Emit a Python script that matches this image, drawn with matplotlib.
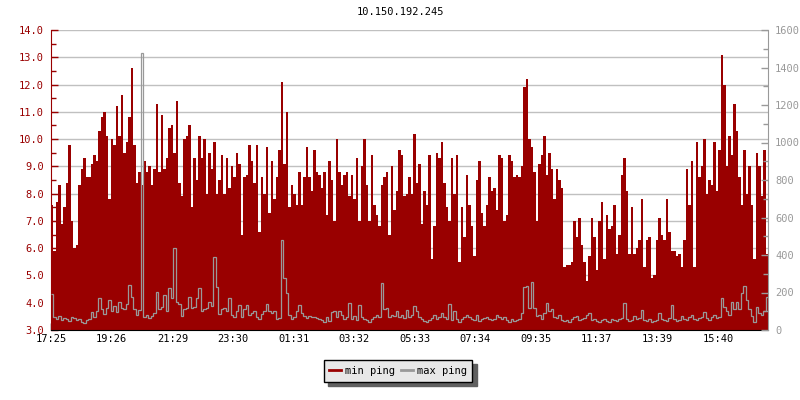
import numpy as np
import matplotlib
matplotlib.use("Agg")
import matplotlib.pyplot as plt
from matplotlib.lines import Line2D

title = "10.150.192.245"
start_time = "17:25"
step_min = 5
time_labels = ["17:25", "19:26", "21:29", "23:30", "01:31", "03:32",
               "05:33", "07:34", "09:35", "11:37", "13:39", "15:40"]
series_names = ["min ping", "max ping"]

# min ping (left axis), one value per 5 min
min_ping = [
    7.6, 5.9, 7.7, 8.3, 6.9, 7.5, 8.4, 9.8, 7.0, 6.0, 6.1, 8.3, 8.9, 9.3, 8.6, 8.6, 9.1, 9.4,
    9.2, 10.3, 10.8, 11.0, 10.1, 7.8, 10.0, 9.8, 11.2, 10.1, 11.6, 9.5, 9.9, 10.8, 12.6, 9.8, 8.4, 8.8,
    8.3, 9.2, 8.8, 9.0, 8.3, 8.9, 11.3, 8.8, 10.9, 8.9, 9.3, 10.4, 10.5, 9.5, 11.4, 8.4, 7.9, 10.0,
    10.1, 10.5, 7.5, 9.3, 8.5, 10.1, 9.3, 10.0, 8.0, 9.5, 8.9, 9.9, 8.0, 8.5, 9.4, 8.0, 9.3, 8.2,
    9.0, 8.6, 9.5, 9.1, 6.5, 8.6, 8.7, 9.8, 9.2, 8.4, 9.8, 6.6, 8.6, 8.0, 9.7, 7.3, 9.2, 7.8,
    8.6, 9.6, 12.1, 9.1, 11.0, 7.5, 8.3, 8.0, 7.6, 8.8, 7.6, 8.6, 9.7, 8.6, 8.1, 9.6, 8.8, 8.7,
    8.2, 8.8, 7.2, 9.2, 8.5, 7.0, 10.0, 8.8, 8.3, 8.7, 8.8, 7.9, 8.7, 7.8, 9.3, 7.0, 9.0, 10.0,
    8.3, 7.0, 9.4, 7.6, 7.2, 6.8, 8.3, 8.6, 8.8, 6.5, 9.0, 7.4, 8.1, 9.6, 9.4, 7.9, 8.0, 8.6,
    8.0, 10.2, 8.4, 9.1, 6.9, 8.1, 7.6, 9.4, 5.6, 6.8, 9.5, 9.3, 9.9, 8.4, 7.5, 7.0, 9.3, 8.0,
    9.4, 5.5, 7.5, 6.4, 8.7, 7.6, 6.8, 5.7, 8.5, 9.2, 7.3, 6.8, 7.6, 8.6, 8.1, 8.2, 7.4, 9.4,
    9.3, 7.0, 7.2, 9.4, 9.2, 8.6, 8.7, 8.6, 9.0, 11.9, 12.2, 10.0, 9.7, 8.8, 7.0, 9.1, 9.4, 10.1,
    8.7, 9.5, 8.9, 7.8, 8.9, 8.5, 8.2, 5.3, 5.4, 5.4, 5.5, 7.0, 6.4, 7.1, 6.1, 5.5, 4.8, 5.7,
    7.1, 6.4, 5.2, 7.0, 7.7, 5.6, 7.2, 6.7, 6.8, 7.6, 5.8,
    6.5, 8.7, 9.3, 8.1, 5.8, 7.5, 5.8, 6.0, 6.3, 7.8,
    5.3, 6.3, 6.4, 4.9, 5.0, 6.3, 7.1, 6.5, 6.3, 7.8,
    6.6, 5.9, 5.9, 5.7, 5.8, 5.3, 6.3, 8.9, 7.6, 9.2,
    5.3, 9.9, 8.6, 9.0, 10.0, 8.0, 8.5, 8.3, 9.9, 8.1,
    9.6, 13.1, 12.0, 9.0, 10.1, 9.4, 11.3, 10.3, 8.6, 7.6,
    9.6, 8.0, 9.0, 7.6, 5.6, 9.5, 9.0, 7.9, 9.6, 5.8,
]

# max ping (right axis)
max_ping = [
    190, 70, 60, 75, 55, 65, 60, 50, 70, 65, 55, 60, 45, 40, 55, 60, 95, 70,
    100, 170, 110, 85, 120, 160, 100, 130, 95, 150, 120, 110, 140, 240, 175, 110, 80, 105,
    1476, 70, 80, 65, 75, 90, 205, 110, 125, 187, 100, 222, 170, 435, 150, 140, 75, 110,
    120, 178, 120, 125, 170, 222, 100, 110, 120, 150, 130, 391, 230, 85, 110, 120, 100, 170,
    80, 70, 100, 133, 70, 110, 133, 80, 90, 100, 70, 60, 85, 100, 137, 100, 90, 100,
    60, 65, 480, 280, 195, 80, 60, 70, 100, 133, 90, 75, 65, 75, 70, 70, 65, 60,
    55, 45, 70, 50, 98, 100, 70, 100, 80, 60, 70, 142, 60, 75, 55, 133, 70, 60,
    55, 45, 60, 70, 80, 70, 250, 110, 119, 70, 80, 75, 100, 70, 80, 65, 107, 70,
    80, 128, 100, 70, 60, 50, 45, 55, 65, 80, 60, 70, 90, 70, 60, 137, 55, 100,
    60, 45, 60, 70, 80, 70, 60, 55, 80, 50, 60, 65, 70, 60, 55, 60, 80, 70,
    60, 70, 55, 45, 60, 50, 55, 60, 90, 231, 235, 115, 258, 120, 75, 80, 60, 90,
    142, 100, 110, 70, 65, 80, 55, 50, 55, 45, 60, 70, 75, 55, 60, 65, 80, 90,
    55, 60, 50, 45, 55, 60, 50, 45, 60, 55, 50, 60, 65,
    142, 60, 50, 55, 75, 60, 65,
    107, 55, 50, 60, 45, 50, 55,
    89, 60, 55, 50, 65,
    133, 60, 50, 55, 75, 60, 55, 70, 80,
    60, 55, 65, 70, 98, 65, 55, 70, 80, 65,
    70, 169, 121, 100, 80, 151, 110, 148, 110, 196,
    235, 160, 110, 75, 45, 121, 90, 80, 100, 178,
]

red = "#990000"
gray = "#999999"

plt.rcParams["font.family"] = "DejaVu Sans Mono"
plt.rcParams["font.size"] = 7.5


def to_min(s):
    h, m = map(int, s.split(":"))
    return h * 60 + m


n = len(min_ping)
edges = np.arange(n + 1) * step_min
t0 = to_min(start_time)
xticks = [(to_min(s) - t0) % 1440 for s in time_labels]

fig = plt.figure(figsize=(8, 4), dpi=100)
ax = fig.add_axes([51 / 800, 70 / 400, 717 / 800, 300 / 400])
ax2 = ax.twinx()

ax.set_axisbelow(True)
ax.yaxis.grid(True, color="#c0c0c0", linewidth=1)
ax.stairs(min_ping, edges, baseline=3.0, fill=True, color=red, linewidth=0)
ax2.stairs(max_ping, edges, baseline=None, color=gray, linewidth=0.9)

ax.set_xlim(0, edges[-1])
ax.set_ylim(3, 14)
ax2.set_ylim(0, 1600)

ax.set_xticks(xticks)
ax.set_xticklabels(time_labels)
ax.set_yticks(np.arange(3, 14.01, 1))
ax.set_yticks(np.arange(3.5, 14, 1), minor=True)
ax.yaxis.set_major_formatter("{x:.1f}")
ax2.set_yticks(np.arange(0, 1601, 200))
ax2.set_yticks(np.arange(100, 1600, 200), minor=True)

ax.tick_params(axis="x", direction="in", length=5, width=1, color="black", pad=3)
ax.tick_params(axis="y", which="major", direction="in", length=5, width=1, colors=red, pad=5)
ax.tick_params(axis="y", which="minor", direction="in", length=3.5, width=1, colors=red)
ax2.tick_params(axis="y", which="major", direction="in", length=5, width=1, colors=gray, pad=5)
ax2.tick_params(axis="y", which="minor", direction="in", length=3.5, width=1, colors=gray)

for s in ["top", "right"]:
    ax.spines[s].set_visible(False)
for s in ["top", "left", "bottom"]:
    ax2.spines[s].set_visible(False)
ax.spines["left"].set_color(red)
ax.spines["bottom"].set_color("black")
ax2.spines["right"].set_color(gray)

fig.text(0.5, 1 - 12 / 400, title, ha="center", va="center")

handles = [Line2D([], [], color=red, linewidth=2), Line2D([], [], color=gray, linewidth=2)]
leg = fig.legend(handles, series_names, loc="center",
                 bbox_to_anchor=(398 / 800, 1 - 371 / 400), ncol=2,
                 fancybox=False, framealpha=1, facecolor="#e8e8e8", edgecolor="black",
                 shadow={"ox": 3, "oy": -3, "color": "#606060", "alpha": 1},
                 handlelength=1.1, handletextpad=0.4, columnspacing=0.6,
                 borderpad=0.55, fontsize=7.5)
leg.get_frame().set_linewidth(1.0)

fig.savefig("out.png", dpi=100)
